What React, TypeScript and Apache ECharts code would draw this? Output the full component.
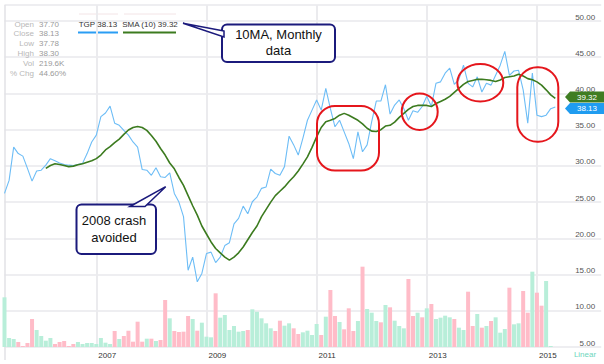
import React, { useEffect, useRef } from 'react';
import * as echarts from 'echarts';

// Monthly categories, May 2005 onward (121 data months + empty months to the right edge)
const START_YEAR = 2005;
const START_MONTH = 5;
const TOTAL_CATEGORIES = 131;
const months: string[] = [];
for (let k = 0; k < TOTAL_CATEGORIES; k++) {
  const m = START_MONTH - 1 + k;
  const y = START_YEAR + Math.floor(m / 12);
  const mm = (m % 12) + 1;
  months.push(`${y}-${String(mm).padStart(2, '0')}`);
}

const labelYears = ['2007', '2009', '2011', '2013', '2015'];

const closeTGP = [
  26.2, 28.0, 32.6, 31.7, 31.35, 29.65, 27.9, 29.3, 29.4, 30.1,
  31.0, 30.7, 30.4, 30.2, 30.1, 30.05, 30.2, 30.35, 31.7, 33.3,
  34.25, 36.8, 37.3, 38.25, 35.9, 35.6, 34.9, 34.25, 33.3, 32.6,
  29.5, 29.4, 28.7, 29.75, 28.5, 28.4, 29.05, 26.2, 25.0, 23.0,
  15.6, 17.4, 14.0, 15.15, 17.9, 18.1, 16.65, 17.4, 19.0, 19.4,
  22.0, 22.75, 24.45, 23.4, 25.05, 25.7, 26.9, 27.1, 29.55, 28.95,
  28.7, 29.9, 34.1, 32.9, 31.5, 33.8, 36.3, 37.7, 39.1, 37.7,
  40.7, 37.9, 35.4, 36.3, 34.7, 33.1, 31.0, 34.7, 31.95, 32.9,
  36.1, 38.95, 38.95, 41.2, 37.15, 38.4, 39.1, 37.9, 36.3, 37.6,
  37.4, 38.2, 39.6, 38.2, 41.4, 41.6, 42.8, 43.5, 41.25, 41.95,
  43.9, 41.4, 40.9, 42.3, 40.2, 41.4, 41.15, 42.5, 43.9, 45.8,
  42.5, 43.1, 43.2, 40.5, 35.9, 42.8, 37.0, 36.8, 37.0, 37.9,
  38.13,
];

const sma10: (number | null)[] = [
  null, null, null, null, null, null, null, null, null,
  29.65, 30.06, 30.3, 30.2, 30.06, 29.9, 29.97, 30.15, 30.3, 30.5,
  30.7, 31.0, 31.5, 32.2, 32.65, 33.2, 33.7, 34.35, 34.95, 35.3,
  35.45, 35.3, 34.9, 34.2, 33.4, 32.4, 31.5, 30.4, 29.6, 28.4,
  27.3, 25.9, 24.5, 23.2, 21.7, 20.6, 19.5, 18.6, 18.0, 17.4,
  17.0, 17.4, 18.0, 18.8, 19.8, 20.8, 21.7, 23.0, 24.0, 25.0,
  25.9, 26.5, 27.1, 27.85, 28.5, 29.3, 30.25, 31.25, 32.55, 34.0,
  35.3, 36.1, 36.3, 36.55, 37.0, 37.25, 37.0, 36.65, 36.3, 35.8,
  35.2, 34.8, 34.75, 35.0, 35.5, 35.6, 36.05, 36.7, 37.25, 37.8,
  38.2, 38.35, 38.35, 38.35, 38.2, 38.6, 38.9, 39.2, 39.6, 40.15,
  40.7, 41.25, 41.65, 41.8, 41.95, 41.95, 41.9, 41.8, 41.65, 41.85,
  42.2, 42.3, 42.4, 42.65, 42.4, 42.05, 41.9, 41.6, 41.15, 40.5,
  39.8, 39.32,
];

// Monthly volume, thousands of shares
const volumeK: (number | null)[] = [
  10930, 1980, 1760, 1100, 220, 880, 6160, 3740, 2420, 1390,
  1980, 660, 1100, 1320, 220, 660, 1100, 660, 880, 880,
  660, 1980, 950, 660, 3520, 1760, 2420, 3590, 1170, 5570,
  1170, 1830, 1830, 1320, 1540, 10340, 6310, 3520, 3300, 3370,
  6820, 6160, 3590, 5350, 2270, 2130, 11810, 6450, 7040, 3740,
  4620, 3370, 3520, 3740, 8290, 7770, 6310, 5210, 4110, 3520,
  5790, 4690, 5210, 4110, 2860, 3230, 3590, 2640, 5060, 2640,
  6670, 12540, 6820, 5500, 3890, 8510, 3520, 5720, 17670, 8360,
  7550, 5720, 5430, 9240, 8730, 5790, 4620, 4110, 14960, 6820,
  7550, 6530, 8510, 9460, 6160, 6450, 6890, 6530, 6160, 4250,
  3740, 12170, 4620, 7260, 4250, 4620, 5720, 6530, 3150, 3960,
  13050, 4990, 5210, 12320, 7550, 16570, 11950, 9090, 14520, 219.6,
  null,
];

// 1 = up month (green volume bar), 0 = down month (pink)
const upMonth = [
  1, 1, 1, 0, 0, 0, 0, 1, 1, 1,
  1, 0, 0, 0, 0, 0, 1, 1, 1, 1,
  1, 1, 1, 1, 0, 1, 0, 0, 0, 0,
  0, 1, 0, 1, 0, 0, 1, 0, 0, 0,
  0, 1, 0, 1, 1, 1, 0, 1, 1, 1,
  1, 1, 1, 0, 1, 1, 1, 1, 1, 0,
  0, 1, 1, 0, 0, 1, 1, 1, 1, 0,
  1, 0, 0, 1, 0, 0, 0, 1, 0, 1,
  1, 1, 0, 1, 0, 1, 1, 1, 0, 0,
  1, 0, 1, 0, 1, 1, 1, 1, 0, 1,
  1, 0, 0, 1, 0, 1, 0, 1, 1, 1,
  0, 1, 1, 0, 0, 1, 0, 0, 1, 1,
];

const infoLabels = ['Open', 'Close', 'Low', 'High', 'Vol', '% Chg'];
const infoValues = ['37.70', '38.13', '37.78', '38.30', '219.6K', '44.60%'];

const NARROW = "'Liberation Sans Narrow', 'Liberation Sans', Arial, sans-serif";
const SANS = "'Liberation Sans', Arial, sans-serif";
const BLUE = '#6dbdf6';
const GREEN = '#3c7b1f';
const NAVY = '#1b1a7c';
const RED = '#e5161c';

export default function App() {
  const ref = useRef<HTMLDivElement>(null);

  useEffect(() => {
    const chart = echarts.init(ref.current!, null, { renderer: 'svg' });
    const isYearTick = (idx: number) => {
      const v = months[idx];
      return !!v && v.endsWith('-01') && labelYears.includes(v.slice(0, 4));
    };

    const txt = (text: string, x: number, y: number, opts: any = {}) => ({
      type: 'text',
      silent: true,
      style: {
        text,
        x,
        y,
        fill: opts.fill || '#333',
        fontSize: opts.fontSize || 8,
        fontFamily: opts.fontFamily || NARROW,
        textAlign: opts.align || 'left',
        textVerticalAlign: 'middle',
        align: opts.align || 'left',
        verticalAlign: 'middle',
      },
      z: opts.z || 10,
    });

    const staticGraphics: any[] = [];
    // left border
    staticGraphics.push({ type: 'line', silent: true, shape: { x1: 5, y1: 5, x2: 5, y2: 360 }, style: { stroke: '#e2e2e6', lineWidth: 1.5 }, z: 1 });
    // info block
    infoLabels.forEach((l, i) => {
      const y = 24 + i * 9.8;
      staticGraphics.push(txt(l, 34, y, { align: 'right', fill: '#b8b8b8' }));
      staticGraphics.push(txt(infoValues[i], 39, y, { fill: '#9a9a9a' }));
    });
    // legend
    staticGraphics.push({ type: 'line', silent: true, shape: { x1: 79, y1: 14, x2: 118, y2: 14 }, style: { stroke: '#f3e4e6', lineWidth: 1 } });
    staticGraphics.push({ type: 'line', silent: true, shape: { x1: 124, y1: 14, x2: 176, y2: 14 }, style: { stroke: '#f3e4e6', lineWidth: 1 } });
    staticGraphics.push(txt(`TGP ${closeTGP[closeTGP.length - 1].toFixed(2)}`, 98, 24, { align: 'center' }));
    staticGraphics.push({ type: 'line', silent: true, shape: { x1: 78, y1: 32.5, x2: 118, y2: 32.5 }, style: { stroke: '#2a9df4', lineWidth: 2 } });
    staticGraphics.push(txt(`SMA (10) ${(sma10[sma10.length - 1] as number).toFixed(2)}`, 150, 24, { align: 'center' }));
    staticGraphics.push({ type: 'line', silent: true, shape: { x1: 123, y1: 32.5, x2: 176, y2: 32.5 }, style: { stroke: GREEN, lineWidth: 2 } });
    // red annotation shapes
    staticGraphics.push({ type: 'rect', silent: true, shape: { x: 317, y: 106, width: 62, height: 64.5, r: 18 }, style: { fill: 'none', stroke: RED, lineWidth: 2 }, z: 20 });
    staticGraphics.push({ type: 'ellipse', silent: true, shape: { cx: 419.7, cy: 111.7, rx: 18, ry: 18.3 }, style: { fill: 'none', stroke: RED, lineWidth: 2 }, z: 20 });
    staticGraphics.push({ type: 'ellipse', silent: true, shape: { cx: 480.3, cy: 82.8, rx: 23, ry: 18.8 }, style: { fill: 'none', stroke: RED, lineWidth: 2 }, z: 20 });
    staticGraphics.push({ type: 'rect', silent: true, shape: { x: 517.3, y: 67.3, width: 41, height: 74.4, r: 20 }, style: { fill: 'none', stroke: RED, lineWidth: 2 }, z: 20 });
    // callout 1
    staticGraphics.push({ type: 'rect', silent: true, shape: { x: 222, y: 24.5, width: 113, height: 37.5, r: 5 }, style: { fill: '#fff', stroke: NAVY, lineWidth: 2 }, z: 30 });
    staticGraphics.push({ type: 'polygon', silent: true, shape: { points: [[224, 31], [183, 23.3], [224, 37]] }, style: { fill: '#fff', stroke: NAVY, lineWidth: 1.5 }, z: 31 });
    staticGraphics.push(txt('10MA, Monthly', 278.5, 34.5, { align: 'center', fontSize: 13, fontFamily: SANS, fill: '#111', z: 32 }));
    staticGraphics.push(txt('data', 278.5, 50.5, { align: 'center', fontSize: 13, fontFamily: SANS, fill: '#111', z: 32 }));
    // callout 2
    staticGraphics.push({ type: 'rect', silent: true, shape: { x: 76.5, y: 204.5, width: 79.5, height: 49.5, r: 5 }, style: { fill: '#fff', stroke: NAVY, lineWidth: 2 }, z: 30 });
    staticGraphics.push({ type: 'polygon', silent: true, shape: { points: [[130, 206.5], [165.7, 186.7], [145, 206.5]] }, style: { fill: '#fff', stroke: NAVY, lineWidth: 1.5 }, z: 31 });
    staticGraphics.push(txt('2008 crash', 114, 220.5, { align: 'center', fontSize: 13, fontFamily: SANS, fill: '#111', z: 32 }));
    staticGraphics.push(txt('avoided', 114, 237, { align: 'center', fontSize: 13, fontFamily: SANS, fill: '#111', z: 32 }));
    // scale mode label
    staticGraphics.push(txt('Linear', 585, 354, { align: 'center', fill: '#6dd6bd' }));

    const option: any = {
      animation: false,
      backgroundColor: '#ffffff',
      grid: { left: 4.5, right: 2.8, top: 5, bottom: 17, containLabel: false },
      xAxis: {
        type: 'category',
        data: months,
        boundaryGap: false,
        axisLine: { show: false },
        axisTick: { show: false },
        axisLabel: {
          interval: (i: number) => isYearTick(i),
          formatter: (v: string) => v.slice(0, 4),
          align: 'left',
          padding: [0, 0, 0, 2],
          margin: 4,
          fontSize: 8,
          color: '#333',
          fontFamily: NARROW,
        },
        splitLine: {
          show: true,
          interval: (i: number) => isYearTick(i),
          lineStyle: { color: '#ebebee', width: 2 },
        },
      },
      yAxis: [
        {
          type: 'value',
          position: 'right',
          min: 5,
          max: 52.21,
          interval: 5,
          axisLine: { show: false },
          axisTick: { show: false },
          axisLabel: {
            inside: true,
            formatter: (v: number) => (Math.abs(v / 5 - Math.round(v / 5)) < 1e-6 ? v.toFixed(2) : ''),
            verticalAlign: 'bottom',
            margin: 6,
            fontSize: 8,
            color: '#555',
            fontFamily: NARROW,
          },
          splitLine: { show: true, lineStyle: { color: '#e9e9ec', width: 1.5 } },
        },
        { type: 'value', min: 0, max: 75240, show: false, splitLine: { show: false } },
      ],
      series: [
        {
          type: 'bar',
          yAxisIndex: 1,
          barWidth: 4,
          data: volumeK.map((v, i) => ({
            value: v,
            itemStyle: { color: upMonth[i] ? '#b8eed9' : '#ffbcc8' },
          })),
          z: 1,
        },
        {
          type: 'line',
          data: closeTGP,
          showSymbol: false,
          lineStyle: { color: BLUE, width: 1.1 },
          itemStyle: { color: BLUE },
          z: 3,
        },
        {
          type: 'line',
          data: sma10,
          showSymbol: false,
          lineStyle: { color: GREEN, width: 1.6 },
          itemStyle: { color: GREEN },
          z: 4,
        },
      ],
      graphic: staticGraphics,
    };
    chart.setOption(option);

    // right-edge price tags, placed on the price scale
    const lastClose = closeTGP[closeTGP.length - 1];
    const lastSma = sma10[sma10.length - 1] as number;
    let yG = chart.convertToPixel({ yAxisIndex: 0 }, lastSma) as number;
    let yB = chart.convertToPixel({ yAxisIndex: 0 }, lastClose) as number;
    if (Math.abs(yB - yG) < 11.5) {
      const mid = (yB + yG) / 2;
      yG = mid - 5.8;
      yB = mid + 5.8;
    }
    const tag = (c: number, color: string, text: string) => [
      {
        type: 'polygon',
        silent: true,
        shape: { points: [[565, c], [570, c - 5.5], [604, c - 5.5], [604, c + 5.5], [570, c + 5.5]] },
        style: { fill: color },
        z: 40,
      },
      txt(text, 587, c + 0.5, { align: 'center', fill: '#fff', z: 41 }),
    ];
    chart.setOption({
      graphic: [
        ...staticGraphics,
        ...tag(yG, '#3f7d22', lastSma.toFixed(2)),
        ...tag(yB, '#1f9cf0', lastClose.toFixed(2)),
      ],
    });

    return () => chart.dispose();
  }, []);

  return (
    <div
      ref={ref}
      style={{ position: 'fixed', left: 0, top: 0, width: 604, height: 364, background: '#fff' }}
    />
  );
}
